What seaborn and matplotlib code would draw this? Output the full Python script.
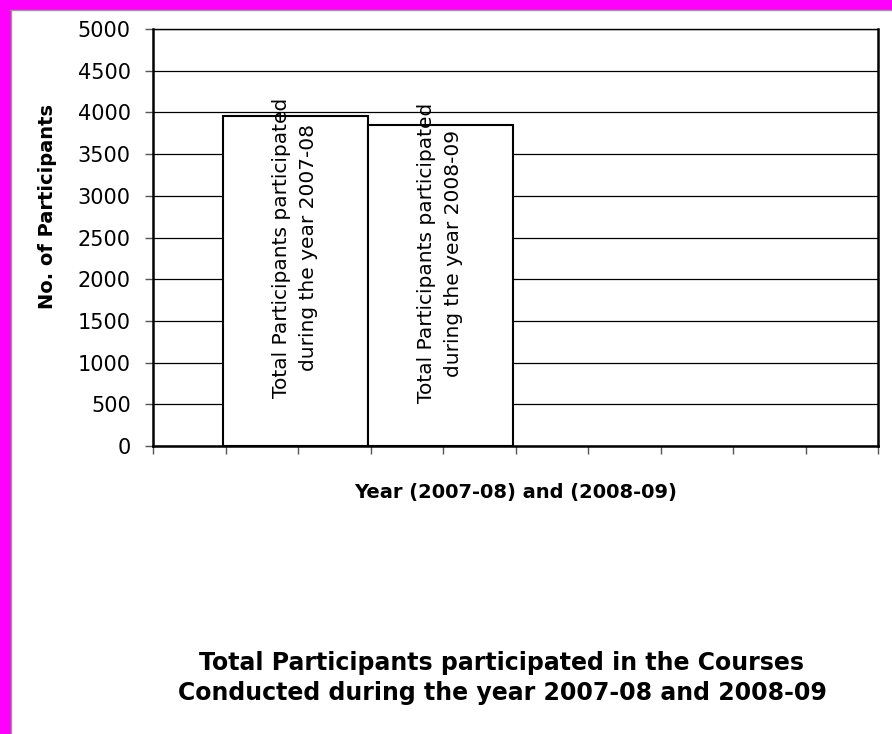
import numpy as np
import matplotlib
matplotlib.use("Agg")
import matplotlib.pyplot as plt
import seaborn as sns
from matplotlib.patches import Rectangle

# data
years = ["2007-08", "2008-09"]
participants = [3960, 3850]
bar_labels = ["Total Participants participated\nduring the year 2007-08",
              "Total Participants participated\nduring the year 2008-09"]
yticks = np.arange(0, 5001, 500)

sns.set_theme(style="white")
plt.rcParams['font.family'] = ['DejaVu Sans']
plt.rcParams['text.color'] = 'black'
plt.rcParams['axes.labelcolor'] = 'black'
plt.rcParams['xtick.color'] = 'black'
plt.rcParams['ytick.color'] = 'black'

fig = plt.figure(figsize=(8.92, 7.34), dpi=100)
fig.patch.set_facecolor("white")
ax = fig.add_axes([153 / 892, 1 - 446 / 734, 725 / 892, 417 / 734])

sns.barplot(x=years, y=participants, color="white", saturation=1,
            edgecolor="black", linewidth=1.5, width=1, ax=ax, zorder=3)

# bar texts, rotated, slightly above the middle of the bar
for p, lab in zip(ax.patches, bar_labels):
    cx = p.get_x() + p.get_width() / 2
    ax.text(cx, p.get_height() * 0.6, lab, rotation=90, ha="center", va="center",
            fontsize=14.5, linespacing=1.5, zorder=4)

ax.set_ylim(0, 5000)
ax.set_xlim(-0.98, 4.02)
ax.set_yticks(yticks)
ax.set_yticklabels([str(v) for v in yticks], fontsize=15)
ax.yaxis.grid(True, color="black", linewidth=0.9)
ax.set_axisbelow(True)

xt = -0.98 + 0.5 * np.arange(11)
ax.set_xticks(xt)
ax.set_xticklabels([])
ax.tick_params(axis="both", which="major", direction="out", length=6,
               width=1, color="#555555", left=True, bottom=True)
ax.tick_params(axis="y", pad=10)

for side in ["left", "right", "top", "bottom"]:
    ax.spines[side].set_visible(True)
    ax.spines[side].set_color("black")
ax.spines["left"].set_linewidth(1.8)
ax.spines["bottom"].set_linewidth(1.8)
ax.spines["right"].set_linewidth(1.8)
ax.spines["top"].set_linewidth(1.0)

ax.set_ylabel("No. of Participants", fontsize=14, fontweight="bold")
ax.yaxis.set_label_coords(-0.133, 0.575)
ax.set_xlabel("Year (2007-08) and (2008-09)", fontsize=14, fontweight="bold", labelpad=17)

fig.text(502 / 892, 1 - 663 / 734, "Total Participants participated in the Courses",
         ha="center", va="center", fontsize=17, fontweight="bold")
fig.text(502 / 892, 1 - 693 / 734, "Conducted during the year 2007-08 and 2008-09",
         ha="center", va="center", fontsize=17, fontweight="bold")

# magenta frame on top and left, thin grey line inside it
fig.patches.append(Rectangle((0, 1 - 9 / 734), 1, 9 / 734, transform=fig.transFigure,
                             color="#ff00ff", zorder=0))
fig.patches.append(Rectangle((0, 0), 10 / 892, 1, transform=fig.transFigure,
                             color="#ff00ff", zorder=0))
fig.add_artist(plt.Line2D([10 / 892, 1], [1 - 10 / 734, 1 - 10 / 734],
                          transform=fig.transFigure, color="#999999", linewidth=1))
fig.add_artist(plt.Line2D([10.5 / 892, 10.5 / 892], [0, 1 - 10 / 734],
                          transform=fig.transFigure, color="#999999", linewidth=1))

fig.savefig("out.png", dpi=100)
